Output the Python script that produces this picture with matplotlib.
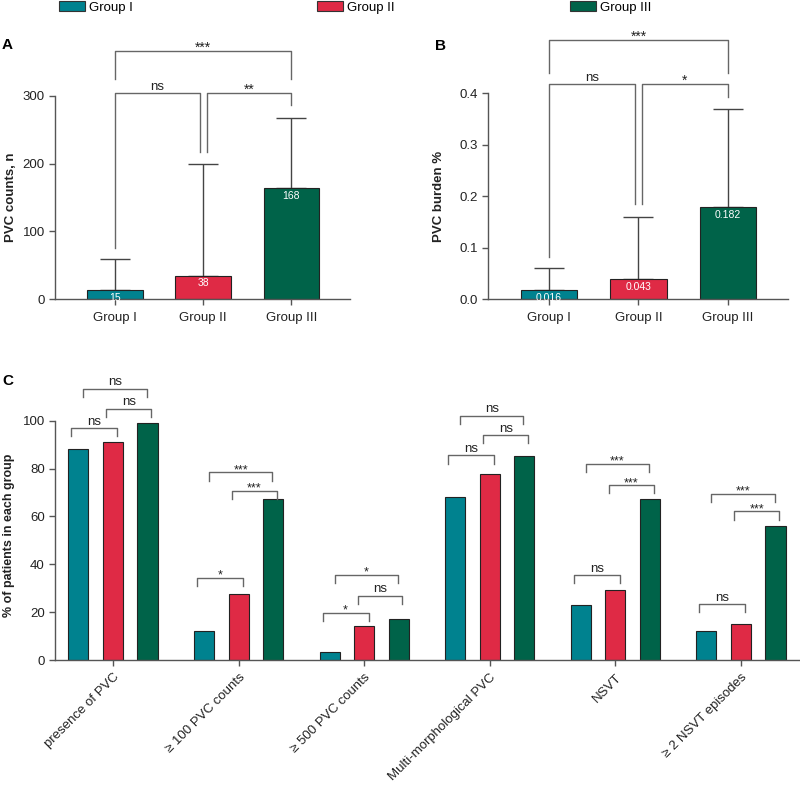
import numpy as np
import matplotlib
matplotlib.use('Agg')
import matplotlib.pyplot as plt
from matplotlib.patches import Patch

plt.rcParams['font.family'] = ['Liberation Sans', 'DejaVu Sans']

groups = ['Group I', 'Group II', 'Group III']
colors = ['#00828f', '#df2a45', '#006349']

# panel A
pvc_counts = [13, 35, 164]
pvc_counts_upper = [59, 200, 267]
pvc_counts_text = ['15', '38', '168']
# (x1, x2, top, left leg end, right leg end, label)
brackets_a = [(0, 0.96, 304, 75, 217, 'ns'),
              (1.04, 2, 304, 217, 286, '**'),
              (0, 2, 366, 324, 324, '***')]

# panel B
pvc_burden = [0.018, 0.040, 0.179]
pvc_burden_upper = [0.061, 0.160, 0.370]
pvc_burden_text = ['0.016', '0.043', '0.182']
brackets_b = [(0, 0.96, 0.4175, 0.083, 0.186, 'ns'),
              (1.04, 2, 0.4175, 0.186, 0.393, '*'),
              (0, 2, 0.5035, 0.44, 0.44, '***')]

# panel C
categories = ['presence of PVC', '≥ 100 PVC counts', '≥ 500 PVC counts',
              'Multi-morphological PVC', 'NSVT', '≥ 2 NSVT episodes']
pct_g1 = [88, 12.3, 3.2, 68.3, 23.1, 12.3]
pct_g2 = [91, 27.6, 14.2, 77.9, 29.3, 15.0]
pct_g3 = [99.2, 67.1, 17.3, 85.1, 67.1, 56.1]
# (category, group a, group b, top, label)
brackets_c = [(0, 0, 1, 96.9, 'ns'), (0, 1, 2, 105, 'ns'), (0, 0, 2, 113.4, 'ns'),
              (1, 0, 1, 34.4, '*'), (1, 1, 2, 70.7, '***'), (1, 0, 2, 78.4, '***'),
              (2, 0, 1, 19.6, '*'), (2, 1, 2, 26.9, 'ns'), (2, 0, 2, 35.5, '*'),
              (3, 0, 1, 85.5, 'ns'), (3, 1, 2, 93.9, 'ns'), (3, 0, 2, 102.1, 'ns'),
              (4, 0, 1, 35.5, 'ns'), (4, 1, 2, 73, '***'), (4, 0, 2, 81.8, '***'),
              (5, 0, 1, 23.4, 'ns'), (5, 1, 2, 62.1, '***'), (5, 0, 2, 69.5, '***')]

AX_COL = '#555555'
LINE_COL = '#666666'
TXT = '#222222'


def style_axis(ax):
    for s in ['top', 'right']:
        ax.spines[s].set_visible(False)
    for s in ['left', 'bottom']:
        ax.spines[s].set_color(AX_COL)
        ax.spines[s].set_linewidth(1)
    ax.tick_params(colors=AX_COL, labelcolor=TXT, labelsize=9.5, length=4, width=1)


def sig_label(ax, x, y, lab, size_ns=9.5, size_star=10):
    if lab == 'ns':
        ax.annotate(lab, (x, y), xytext=(0, 2.5), textcoords='offset points',
                    ha='center', va='baseline', fontsize=size_ns, color=TXT, annotation_clip=False)
    else:
        ax.annotate(lab, (x, y), xytext=(0, -0.5), textcoords='offset points',
                    ha='center', va='baseline', fontsize=size_star, color=TXT, annotation_clip=False)


def bar_panel(ax, vals, upper, texts, brackets, ylim, yticks, ylabel, fmt):
    x = np.arange(3)
    ax.bar(x, vals, width=0.63, color=colors, edgecolor='#222222', linewidth=0.8, zorder=2)
    ax.errorbar(x, vals, yerr=[np.zeros(3), np.array(upper) - np.array(vals)],
                fmt='none', ecolor='#444444', elinewidth=1, capsize=10.5, capthick=1, zorder=1)
    for xi, v, t in zip(x, vals, texts):
        ax.annotate(t, (xi, v), xytext=(0, -2), textcoords='offset points',
                    ha='center', va='top', color='white', fontsize=7.5, zorder=3)
    for x1, x2, top, l1, l2, lab in brackets:
        ax.plot([x1, x1, x2, x2], [l1, top, top, l2], color=LINE_COL, lw=1, clip_on=False)
        sig_label(ax, (x1 + x2) / 2, top, lab)
    ax.set_xlim(-0.68, 2.67)
    ax.set_ylim(*ylim)
    ax.set_yticks(yticks)
    ax.set_yticklabels([fmt(v) for v in yticks])
    ax.set_xticks(x)
    ax.set_xticklabels(groups)
    ax.set_ylabel(ylabel, fontsize=9.5, fontweight='bold', color=TXT)
    style_axis(ax)
    ax.tick_params(axis='x', pad=5)


fig = plt.figure(figsize=(8, 7.85), dpi=100)

ax_a = fig.add_axes([0.069, 0.6187, 0.369, 0.2594])
bar_panel(ax_a, pvc_counts, pvc_counts_upper, pvc_counts_text, brackets_a,
          (0, 300), [0, 100, 200, 300], 'PVC counts, n', lambda v: f'{v}')
ax_a.yaxis.set_label_coords(-0.13, 0.5)

ax_b = fig.add_axes([0.61, 0.6187, 0.375, 0.2623])
bar_panel(ax_b, pvc_burden, pvc_burden_upper, pvc_burden_text, brackets_b,
          (0, 0.4), [0, 0.1, 0.2, 0.3, 0.4], 'PVC burden %', lambda v: f'{v:.1f}')
ax_b.yaxis.set_label_coords(-0.145, 0.5)

ax_c = fig.add_axes([0.069, 0.1592, 0.931, 0.3049])
xc = np.arange(len(categories))
offs = [-0.275, 0, 0.275]
for vals, off, col in zip([pct_g1, pct_g2, pct_g3], offs, colors):
    ax_c.bar(xc + off, vals, width=0.16, color=col, edgecolor='#222222', linewidth=0.8, zorder=2)
nudge = {(0, 1): (-0.056, 0.036), (1, 2): (-0.052, 0.03), (0, 2): (0.04, -0.008)}
for cat, a, b, top, lab in brackets_c:
    dl, dr = nudge[(a, b)]
    x1 = cat + offs[a] + dl
    x2 = cat + offs[b] + dr
    ax_c.plot([x1, x1, x2, x2], [top - 3.4, top, top, top - 3.4], color=LINE_COL, lw=1, clip_on=False)
    sig_label(ax_c, (x1 + x2) / 2, top, lab, size_ns=9.5, size_star=9)
ax_c.set_xlim(-0.46, 5.47)
ax_c.set_ylim(0, 100)
ax_c.set_yticks([0, 20, 40, 60, 80, 100])
ax_c.set_xticks(xc)
ax_c.set_xticklabels(categories, rotation=45, ha='right', va='top', rotation_mode='anchor')
ax_c.set_ylabel('% of patients in each group', fontsize=9, fontweight='bold', color=TXT)
ax_c.yaxis.set_label_coords(-0.054, 0.52)
style_axis(ax_c)
ax_c.tick_params(axis='x', labelsize=9.5, pad=4)

fig.text(0.0025, 0.943, 'A', fontsize=11, fontweight='bold', va='center', ha='left')
fig.text(0.544, 0.942, 'B', fontsize=11, fontweight='bold', va='center', ha='left')
fig.text(0.0025, 0.515, 'C', fontsize=11, fontweight='bold', va='center', ha='left')

# legend: one entry per group, spread across the top
legend_x = [59, 317, 570]
for g, c, lx in zip(groups, colors, legend_x):
    leg = fig.legend([Patch(facecolor=c, edgecolor='#333333', linewidth=0.8)], [g],
                     loc='center left', bbox_to_anchor=(lx / 800, 1 - 7.5 / 785),
                     frameon=False, fontsize=9.5, handlelength=1.95, handleheight=0.8,
                     handletextpad=0.35, borderpad=0, borderaxespad=0)

fig.savefig('out.png', dpi=100)
